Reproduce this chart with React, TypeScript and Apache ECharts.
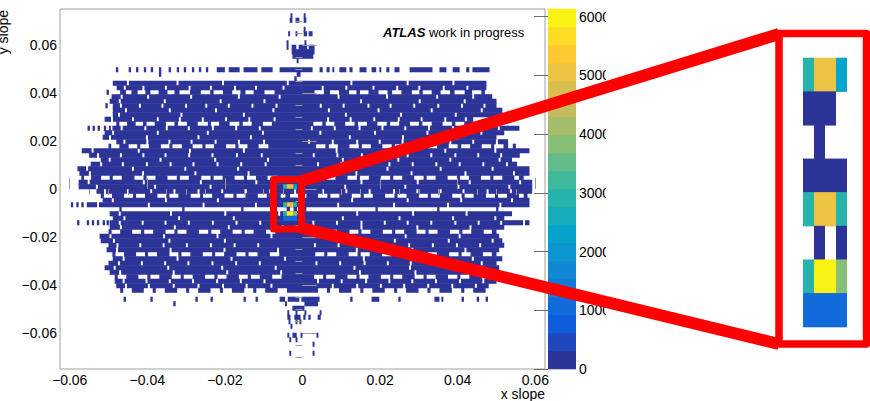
import React, { useEffect, useRef } from 'react';
import * as echarts from 'echarts';

const FONT = '"Liberation Sans", Arial, Helvetica, sans-serif';

// ---- axis ticks ----
const xMajor = [-0.06, -0.04, -0.02, 0, 0.02, 0.04, 0.06];
const xMinor = [-0.055, -0.05, -0.045, -0.035, -0.03, -0.025, -0.015, -0.01, -0.005, 0.005, 0.01, 0.015, 0.025, 0.03, 0.035, 0.045, 0.05, 0.055];
const yMajor = [-0.06, -0.04, -0.02, 0, 0.02, 0.04, 0.06];
const yMinor = [-0.07, -0.065, -0.055, -0.05, -0.045, -0.035, -0.03, -0.025, -0.015, -0.01, -0.005, 0.005, 0.01, 0.015, 0.025, 0.03, 0.035, 0.045, 0.05, 0.055, 0.065, 0.07];
const zTicks = [0, 1000, 2000, 3000, 4000, 5000, 6000];

// ---- histogram binning ----
const BIN_H = 0.001875; // y bin height
const GAP_W = 0.0005;   // width of an empty x bin inside a row
const Z_MAX = 6130;
const N_BANDS = 20;
const LOW = 120; // content of the ordinary (dark blue) cells

// rows: [y centre, left edge, right edge, x positions of empty bins]
const upperRows: [number, number, number, number[]][] = [
  [0.04406, -0.0489, 0.0474, [-0.045, -0.0322, -0.0205, -0.0038, 0.0126, 0.0271, 0.0389]],
  [0.04219, -0.0479, 0.0474, [-0.0458, -0.041, -0.0352, -0.0291, -0.0236, -0.0174, -0.012, -0.0049, 0.0052, 0.0113, 0.0183, 0.0244, 0.0301, 0.0364, 0.0425]],
  [0.03844, -0.0492, 0.0489, [-0.0466, -0.0398, -0.0287, -0.0164, -0.0059, 0.0093, 0.0218, 0.0347, 0.044]],
  [0.03656, -0.0497, 0.05, [-0.0471, -0.0355, -0.0211, -0.0098, 0.0151, 0.0302, 0.0418]],
  [0.03469, -0.0489, 0.05, [-0.0468, -0.0419, -0.0361, -0.03, -0.0248, -0.019, -0.0129, -0.0067, 0.0047, 0.0106, 0.017, 0.0227, 0.0288, 0.035, 0.0411, 0.0469]],
  [0.03281, -0.0489, 0.0515, [-0.0455, -0.0342, -0.0223, -0.0075, 0.0068, 0.0196, 0.0333, 0.0462]],
  [0.03094, -0.0489, 0.0515, [-0.0473, -0.0312, -0.0151, 0.0112, 0.0254, 0.0395]],
  [0.02906, -0.051, 0.044, [-0.0491, -0.0437, -0.0373, -0.0316, -0.0257, -0.0197, -0.0137, -0.0072, 0.0066, 0.0124, 0.0185, 0.0248, 0.0307, 0.0368, 0.0421]],
  [0.02531, -0.049, 0.0559, [-0.0466, -0.0405, -0.035, -0.0293, -0.0231, -0.0171, -0.011, 0.0024, 0.0083, 0.0147, 0.0206, 0.0265, 0.0326, 0.0388, 0.0447, 0.0506]],
  [0.02344, -0.051, 0.052, [-0.0488, -0.0373, -0.0244, -0.0102, 0.0046, 0.0187, 0.0322, 0.0461]],
  [0.02156, -0.0515, 0.05, [-0.0496, -0.0401, -0.0268, -0.0133, 0.0122, 0.0259, 0.0399]],
  [0.01969, -0.048, 0.053, [-0.0459, -0.04, -0.0343, -0.0286, -0.0224, -0.0164, -0.0099, 0.0017, 0.0078, 0.0141, 0.0199, 0.0258, 0.032, 0.0381, 0.044, 0.0501]],
  [0.01594, -0.0569, 0.0585, [-0.0541, -0.0422, -0.029, -0.0151, 0.0088, 0.0233, 0.0368, 0.0497]],
  [0.01406, -0.055, 0.056, [-0.0527, -0.0468, -0.041, -0.0353, -0.0292, -0.0232, -0.0169, -0.0105, 0.0029, 0.009, 0.0153, 0.0212, 0.0271, 0.0332, 0.0394, 0.0453, 0.0512]],
  [0.01219, -0.052, 0.054, [-0.0497, -0.0366, -0.0225, -0.0089, 0.0104, 0.0247, 0.0381, 0.0508]],
  [0.01031, -0.0546, 0.0553, [-0.0519, -0.0463, -0.0401, -0.034, -0.0281, -0.0219, -0.0158, -0.0095, 0.004, 0.01, 0.0163, 0.0224, 0.0284, 0.0345, 0.0405, 0.0466, 0.0527]],
  [0.00844, -0.058, 0.0585, [-0.0555, -0.0437, -0.0302, -0.0166, 0.0073, 0.0219, 0.0356, 0.049]],
  [0.00656, -0.0575, 0.0585, [-0.0548, -0.0411, -0.0276, -0.0139, 0.0139, 0.0281, 0.042, 0.0545]],
  [0.00281, -0.0577, 0.0592, [-0.0551, -0.0409, -0.0262, -0.0119, 0.0152, 0.0297, 0.0431, 0.0561]],
  [0.00094, -0.0577, 0.0592, [-0.053, -0.038, -0.0237, 0.011, 0.0265, 0.0402, 0.0533]],
];

const lowerRows: [number, number, number, number[]][] = [
  [-0.00094, -0.0531, 0.0592, [-0.0509, -0.045, -0.039, -0.033, -0.0268, -0.0207, -0.0146, -0.0083, -0.0019, 0.0053, 0.0113, 0.0173, 0.0236, 0.0296, 0.0356, 0.0415, 0.0477, 0.0537]],
  [-0.00469, -0.0515, 0.0585, [-0.0489, -0.0352, -0.0218, -0.0081, 0.0128, 0.0271, 0.0409, 0.054]],
  [-0.00656, -0.0556, 0.0585, [-0.0527, -0.0396, -0.0255, -0.012, 0.0092, 0.0236, 0.0375, 0.051]],
  [-0.01031, -0.0497, 0.054, [-0.0471, -0.0339, -0.0199, -0.006, 0.0141, 0.0285, 0.0423]],
  [-0.01219, -0.0489, 0.052, [-0.0459, -0.0318, -0.0177, 0.0104, 0.025, 0.0388, 0.0497]],
  [-0.01406, -0.0497, 0.0585, [-0.0471, -0.0412, -0.0353, -0.0293, -0.0231, -0.017, -0.0109, 0.0028, 0.0089, 0.0152, 0.0212, 0.0271, 0.0332, 0.0394, 0.0454, 0.0512, 0.0571]],
  [-0.01594, -0.0497, 0.052, [-0.0468, -0.0329, -0.019, -0.0051, 0.0152, 0.0296, 0.0433]],
  [-0.01969, -0.0523, 0.0507, [-0.0495, -0.0357, -0.0219, -0.008, 0.0124, 0.0266, 0.0405]],
  [-0.02156, -0.052, 0.0515, [-0.0486, -0.0343, -0.02, 0.0095, 0.0238, 0.0377, 0.049]],
  [-0.02344, -0.05, 0.052, [-0.0477, -0.0418, -0.0358, -0.0298, -0.0236, -0.0175, -0.0114, 0.0032, 0.0093, 0.0156, 0.0216, 0.0275, 0.0336, 0.0398, 0.0458]],
  [-0.02531, -0.0505, 0.0507, [-0.0478, -0.034, -0.0201, -0.0063, 0.014, 0.0283, 0.042]],
  [-0.02906, -0.0489, 0.0515, [-0.0461, -0.0322, -0.0183, -0.0045, 0.0158, 0.0301, 0.0439]],
  [-0.03094, -0.05, 0.05, [-0.0473, -0.0414, -0.0354, -0.0294, -0.0232, -0.0171, -0.011, 0.0036, 0.0097, 0.016, 0.022, 0.0279, 0.034, 0.0402, 0.0462]],
  [-0.03281, -0.051, 0.0507, [-0.0484, -0.0346, -0.0207, -0.0069, 0.0134, 0.0277, 0.0414]],
  [-0.03469, -0.0497, 0.05, [-0.047, -0.0332, -0.0194, -0.0055, 0.0148, 0.0291, 0.0428]],
  [-0.03844, -0.0484, 0.05, [-0.0461, -0.0402, -0.0342, -0.0282, -0.022, -0.0159, -0.0098, 0.004, 0.0101, 0.0164, 0.0224, 0.0283, 0.0344, 0.0406, 0.0466]],
  [-0.04031, -0.048, 0.048, [-0.0455, -0.0396, -0.0332, -0.0268, -0.0205, -0.0144, -0.008, 0.0078, 0.0141, 0.0202, 0.0262, 0.0324, 0.0386, 0.0447]],
];

// sparse rows: [y centre, filled x ranges]
const sparseRows: [number, [number, number][]][] = [
  [0.07219, [[-0.0031, -0.0026], [0.0003, 0.0008]]],
  [0.07031, [[-0.0033, -0.0026], [-0.0018, -0.0008], [0.0003, 0.001]]],
  [0.06656, [[0.0003, 0.0008]]],
  [0.06469, [[-0.0037, -0.0032], [-0.0018, -0.0013], [0.0003, 0.0012], [0.0016, 0.0026]]],
  [0.06094, [[-0.0041, -0.0036], [0.0005, 0.001]]],
  [0.05906, [[-0.0041, -0.0036], [-0.0028, -0.0016], [-0.001, 0.0012], [0.0016, 0.0031]]],
  [0.05719, [[-0.0028, 0.0031]]],
  [0.05531, [[-0.0026, 0.0028]]],
  [0.05344, [[-0.0015, -0.001]]],
  [0.04969, [[-0.0481, -0.0475], [-0.0448, -0.0442], [-0.0429, -0.0423], [-0.0409, -0.0403], [-0.0391, -0.0385], [-0.037, -0.0364], [-0.0345, -0.0339], [-0.0324, -0.0318], [-0.0306, -0.03], [-0.0285, -0.0279], [-0.0267, -0.0261], [-0.0249, -0.0243], [-0.0221, -0.02], [-0.019, -0.0162], [-0.0152, -0.0116], [-0.0106, -0.0077], [-0.0059, 0.0026], [0.0044, 0.0052], [0.0062, 0.007], [0.0077, 0.0082], [0.0095, 0.0113], [0.0121, 0.0129], [0.0147, 0.0165], [0.0178, 0.019], [0.0198, 0.0203], [0.0216, 0.0224], [0.0237, 0.025], [0.0276, 0.0335], [0.0353, 0.0371], [0.0387, 0.0405], [0.0422, 0.043], [0.0438, 0.0482]]],
  [0.04781, [[-0.037, -0.0364], [-0.0015, -0.0005]]],
  [0.04594, [[-0.0021, -0.0015]]],
  [0.04031, [[-0.0505, -0.0499], [-0.047, -0.0455], [-0.0441, -0.0425], [-0.0405, -0.0392], [-0.0371, -0.0348], [-0.033, -0.0317], [-0.029, -0.0262], [-0.0238, -0.0229], [-0.0205, -0.0181], [-0.016, -0.0147], [-0.0126, -0.0098], [-0.0072, 0.0031], [0.0055, 0.0071], [0.0094, 0.012], [0.0139, 0.0148], [0.017, 0.0196], [0.0219, 0.0231], [0.0255, 0.0282], [0.0301, 0.031], [0.0333, 0.0356], [0.038, 0.0392], [0.0418, 0.0437], [0.0461, 0.047]]],
  [0.03469, [[-0.0508, -0.0502]]],
  [0.02719, [[-0.048, -0.0472], [-0.0452, -0.043], [-0.0411, -0.0402], [-0.0381, -0.0352], [-0.033, -0.0321], [-0.0298, -0.027], [-0.0244, -0.0236], [-0.0215, -0.0188], [-0.0163, -0.0154], [-0.0131, -0.0102], [-0.0079, 0.0028], [0.0051, 0.006], [0.0082, 0.011], [0.0134, 0.0143], [0.0166, 0.0193], [0.0217, 0.0226], [0.0249, 0.0277], [0.03, 0.0309], [0.0333, 0.0361], [0.0385, 0.0394], [0.0417, 0.044], [0.0458, 0.0465]]],
  [0.02531, [[-0.0554, -0.0548], [-0.0541, -0.0535], [-0.0528, -0.0522], [-0.0512, -0.0506], [-0.0499, -0.0494]]],
  [0.01781, [[-0.05, -0.0493], [-0.0472, -0.0448], [-0.0426, -0.0418], [-0.0396, -0.0365], [-0.0343, -0.0335], [-0.0311, -0.0283], [-0.0258, -0.025], [-0.0228, -0.0197], [-0.0173, -0.0165], [-0.0142, -0.0113], [-0.0088, 0.0035], [0.0059, 0.0068], [0.0091, 0.0121], [0.0145, 0.0153], [0.0176, 0.0206], [0.023, 0.0238], [0.0262, 0.0291], [0.0315, 0.0323], [0.0347, 0.0377], [0.04, 0.0409], [0.0432, 0.0462], [0.0486, 0.0494], [0.0518, 0.053], [0.0542, 0.055]]],
  [0.00469, [[-0.057, -0.0563], [-0.0545, -0.0519], [-0.0497, -0.0489], [-0.0466, -0.0433], [-0.041, -0.0402], [-0.0379, -0.0348], [-0.0324, -0.0316], [-0.0293, -0.0261], [-0.0237, -0.0229], [-0.0206, -0.0175], [-0.0151, -0.0143], [-0.012, -0.009], [-0.0066, 0.003], [0.0054, 0.0062], [0.0085, 0.0116], [0.014, 0.0148], [0.0171, 0.0202], [0.0226, 0.0234], [0.0257, 0.0288], [0.0312, 0.032], [0.0343, 0.0374], [0.0398, 0.0406], [0.0429, 0.046], [0.0484, 0.0492], [0.0515, 0.0546], [0.0558, 0.057]]],
  [-0.00281, [[-0.052, -0.0512], [-0.0491, -0.046], [-0.0437, -0.0429], [-0.0406, -0.0374], [-0.0351, -0.0343], [-0.032, -0.0288], [-0.0264, -0.0256], [-0.0233, -0.0201], [-0.0178, -0.017], [-0.0147, -0.0115], [-0.0092, -0.0084], [-0.0078, -0.0056], [-0.0044, -0.0034], [0.001, 0.004], [0.0064, 0.0072], [0.0095, 0.0127], [0.015, 0.0158], [0.0181, 0.0213], [0.0237, 0.0245], [0.0268, 0.03], [0.0323, 0.0331], [0.0354, 0.0386], [0.041, 0.0418], [0.0441, 0.0473], [0.0496, 0.0504], [0.0527, 0.0558], [0.057, 0.058]]],
  [-0.00656, [[-0.0597, -0.0591], [-0.0583, -0.0577], [-0.057, -0.0564]]],
  [-0.00844, [[-0.0472, -0.0466], [-0.031, -0.0304], [-0.0158, -0.0152], [0.0, 0.001], [0.0188, 0.0194], [0.0347, 0.0353], [0.0499, 0.0505]]],
  [-0.01406, [[-0.0581, -0.0575], [-0.0556, -0.055], [-0.0543, -0.0537], [-0.053, -0.0524], [-0.0515, -0.0509], [-0.0505, -0.0499]]],
  [-0.01781, [[-0.05, -0.0492], [-0.047, -0.0439], [-0.0416, -0.0408], [-0.0385, -0.0353], [-0.033, -0.0322], [-0.0299, -0.0267], [-0.0243, -0.0235], [-0.0212, -0.018], [-0.0157, -0.0149], [-0.0126, -0.0094], [-0.007, 0.0035], [0.0058, 0.0066], [0.0089, 0.0121], [0.0144, 0.0152], [0.0175, 0.0207], [0.0231, 0.0239], [0.0262, 0.0294], [0.0317, 0.0325], [0.0348, 0.038], [0.0404, 0.0412], [0.0435, 0.0467], [0.0488, 0.05]]],
  [-0.02719, [[-0.049, -0.0482], [-0.046, -0.0429], [-0.0406, -0.0398], [-0.0375, -0.0343], [-0.032, -0.0312], [-0.0289, -0.0257], [-0.0233, -0.0225], [-0.0202, -0.017], [-0.0147, -0.0139], [-0.0116, -0.0084], [-0.006, 0.0033], [0.0056, 0.0064], [0.0087, 0.0119], [0.0142, 0.015], [0.0173, 0.0205], [0.0229, 0.0237], [0.026, 0.0292], [0.0315, 0.0323], [0.0346, 0.0378], [0.0402, 0.041], [0.0433, 0.0465], [0.0488, 0.05]]],
  [-0.03656, [[-0.0484, -0.0476], [-0.0454, -0.0423], [-0.04, -0.0392], [-0.0369, -0.0337], [-0.0314, -0.0306], [-0.0283, -0.0251], [-0.0227, -0.0219], [-0.0196, -0.0164], [-0.0141, -0.0133], [-0.011, -0.0078], [-0.0054, 0.003], [0.0053, 0.0061], [0.0084, 0.0116], [0.0139, 0.0147], [0.017, 0.0202], [0.0226, 0.0234], [0.0257, 0.0289], [0.0312, 0.032], [0.0343, 0.0375], [0.0399, 0.0407], [0.043, 0.0462], [0.0485, 0.05]]],
  [-0.04219, [[-0.047, -0.0462], [-0.044, -0.0409], [-0.0386, -0.0378], [-0.0355, -0.0323], [-0.03, -0.0292], [-0.0269, -0.0237], [-0.0213, -0.0205], [-0.0182, -0.015], [-0.0127, -0.0119], [-0.0096, -0.0064], [-0.004, 0.004], [0.0063, 0.0071], [0.0094, 0.0126], [0.0149, 0.0157], [0.018, 0.0212], [0.0236, 0.0244], [0.0267, 0.0299], [0.0322, 0.033], [0.0353, 0.0385], [0.0409, 0.0417], [0.044, 0.0472]]],
  [-0.04594, [[-0.0461, -0.0455], [-0.0392, -0.0386], [-0.0276, -0.027], [-0.0237, -0.0231], [-0.0152, -0.0146], [-0.0121, -0.0115], [-0.0059, -0.0045], [-0.0038, -0.0008], [-0.0003, 0.0044], [0.0123, 0.0129], [0.0178, 0.0198], [0.0247, 0.0253], [0.034, 0.0353], [0.0358, 0.0363], [0.041, 0.0416], [0.0449, 0.0455], [0.0472, 0.0478]]],
  [-0.04781, [[-0.0333, -0.0327], [-0.0045, -0.004], [0.0005, 0.004]]],
  [-0.04969, [[-0.0026, 0.0005]]],
  [-0.05156, [[-0.0039, -0.0034], [-0.0018, -0.0013], [0.0005, 0.001], [0.0044, 0.0049]]],
  [-0.05344, [[-0.0039, -0.0031], [-0.0021, -0.0005], [0.0002, 0.0008], [0.0015, 0.0021], [0.0039, 0.0047]]],
  [-0.05531, [[-0.0036, -0.0031], [-0.0018, -0.0013], [-0.0008, -0.0003]]],
  [-0.05719, [[-0.0031, -0.0026]]],
  [-0.06094, [[-0.0039, -0.0034], [-0.0026, -0.0015], [-0.0005, 0.0], [0.0036, 0.0041]]],
  [-0.06281, [[-0.0034, -0.0029], [-0.0018, -0.0013]]],
  [-0.06469, [[0.0026, 0.0031]]],
  [-0.06844, [[-0.0034, -0.0029], [0.0026, 0.0031]]],
];

// hot spot (also shown enlarged in the inset)
const hotColEdges = [-0.005, -0.0041, -0.0032, -0.0023, -0.0014];
const hotRowY = [0.00094, -0.00094, -0.00281, -0.00469, -0.00656, -0.00844, -0.01031, -0.01219];
const hotValues: (number | null)[][] = [
  [3000, 5000, 5100, 2400],
  [150, 150, 150, null],
  [null, 150, null, null],
  [150, 150, 150, 150],
  [2900, 5200, 5100, 2800],
  [null, 150, null, 150],
  [2900, 6000, 6050, 3700],
  [1000, 1150, 1200, 1050],
];

// ---- colour palette (ROOT "bird") ----
const BIRD = [[53, 42, 135], [15, 92, 221], [20, 129, 214], [6, 164, 202], [46, 183, 164], [135, 191, 119], [209, 187, 89], [254, 200, 50], [249, 251, 14]];
function bird(t: number) {
  const s = Math.max(0, Math.min(1, t)) * 8;
  const i = Math.min(7, Math.floor(s));
  const f = s - i;
  const a = BIRD[i], b = BIRD[i + 1];
  const c = [0, 1, 2].map((k) => Math.round(a[k] + (b[k] - a[k]) * f));
  return `rgb(${c[0]},${c[1]},${c[2]})`;
}
const PALETTE = Array.from({ length: N_BANDS }, (_, i) => bird((i + 0.5) / N_BANDS));
function colorOf(v: number) {
  const i = Math.max(0, Math.min(N_BANDS - 1, Math.floor((v / Z_MAX) * N_BANDS)));
  return PALETTE[i];
}

// ---- build cell tables ----
function buildMain() {
  const out: number[][] = [];
  const seg = (x1: number, x2: number, yc: number, v: number) => {
    if (x2 > x1) out.push([x1, x2, yc - BIN_H / 2, yc + BIN_H / 2, v]);
  };
  [...upperRows, ...lowerRows].forEach(([yc, L, R, gaps]) => {
    let cur = L;
    [...gaps].sort((a, b) => a - b).forEach((g) => {
      const g1 = g - GAP_W / 2, g2 = g + GAP_W / 2;
      if (g1 > cur && g2 < R) {
        seg(cur, g1, yc, LOW);
        cur = g2;
      }
    });
    seg(cur, R, yc, LOW);
  });
  sparseRows.forEach(([yc, segs]) => segs.forEach(([a, b]) => seg(a, b, yc, LOW)));
  hotValues.forEach((row, r) =>
    row.forEach((v, c) => {
      if (v != null) seg(hotColEdges[c], hotColEdges[c + 1], hotRowY[r], v);
    })
  );
  return out;
}
function buildInset() {
  const out: number[][] = [];
  const n = hotValues.length;
  hotValues.forEach((row, r) =>
    row.forEach((v, c) => {
      if (v != null) out.push([c, c + 1, n - r - 1, n - r, v]);
    })
  );
  return out;
}
function buildBar() {
  return Array.from({ length: N_BANDS }, (_, i) => [0, 1, (i * Z_MAX) / N_BANDS, ((i + 1) * Z_MAX) / N_BANDS, ((i + 0.5) * Z_MAX) / N_BANDS]);
}

function cellRender(_params: any, api: any) {
  const a = api.coord([api.value(0), api.value(3)]);
  const b = api.coord([api.value(1), api.value(2)]);
  return {
    type: 'rect',
    shape: { x: a[0], y: a[1] - 0.3, width: Math.max(b[0] - a[0], 1), height: b[1] - a[1] + 0.6 },
    style: { fill: colorOf(api.value(4)) },
  };
}

const fmt = (v: number) => (Math.abs(v) < 1e-9 ? '0' : (v < 0 ? '\u2212' : '') + Math.abs(v).toFixed(2));
const TICK = '#9a9a9a';
const labelStyle = { fontFamily: FONT, fontSize: 14, color: '#000' };

export default function App() {
  const ref = useRef<HTMLDivElement>(null);
  useEffect(() => {
    const chart = echarts.init(ref.current as HTMLDivElement, null, { renderer: 'svg' });
    const dims = ['x1', 'x2', 'y1', 'y2', 'v'];
    const option: any = {
      animation: false,
      backgroundColor: '#fff',
      grid: [
        { left: 60, top: 9, width: 485, height: 360, show: true, borderColor: '#a0a0a0', borderWidth: 1, outerBoundsMode: 'none', containLabel: false },
        { left: 548, top: 9, width: 28, height: 360, show: false, outerBoundsMode: 'none', containLabel: false },
        { left: 803, top: 58, width: 44, height: 269, show: false, outerBoundsMode: 'none', containLabel: false },
      ],
      xAxis: [
        {
          type: 'value', gridIndex: 0, min: -0.0625, max: 0.0625, z: 5,
          axisLine: { show: false }, splitLine: { show: false },
          axisTick: { show: true, inside: true, length: 11, customValues: xMajor, lineStyle: { color: TICK } },
          axisLabel: { ...labelStyle, margin: 4, customValues: xMajor, formatter: fmt },
        },
        {
          type: 'value', gridIndex: 0, min: -0.0625, max: 0.0625, z: 5,
          axisLine: { show: false }, splitLine: { show: false },
          axisTick: { show: true, inside: true, length: 6, customValues: xMinor, lineStyle: { color: TICK } },
          axisLabel: { show: false },
        },
        { type: 'value', gridIndex: 1, min: 0, max: 1, show: false },
        { type: 'value', gridIndex: 2, min: 0, max: 4, show: false },
      ],
      yAxis: [
        {
          type: 'value', gridIndex: 0, min: -0.075, max: 0.075, z: 5,
          axisLine: { show: false }, splitLine: { show: false },
          axisTick: { show: true, inside: true, length: 14, customValues: yMajor, lineStyle: { color: TICK } },
          axisLabel: { ...labelStyle, margin: 3, customValues: yMajor, formatter: fmt },
        },
        {
          type: 'value', gridIndex: 0, min: -0.075, max: 0.075, z: 5,
          axisLine: { show: false }, splitLine: { show: false },
          axisTick: { show: true, inside: true, length: 7, customValues: yMinor, lineStyle: { color: TICK } },
          axisLabel: { show: false },
        },
        {
          type: 'value', gridIndex: 1, min: 0, max: Z_MAX, position: 'right', z: 5,
          axisLine: { show: false }, splitLine: { show: false },
          axisTick: { show: true, inside: true, length: 14, customValues: zTicks, lineStyle: { color: '#6b6b6b' } },
          axisLabel: { ...labelStyle, margin: 3, customValues: zTicks, formatter: (v: number) => String(Math.round(v)) },
        },
        { type: 'value', gridIndex: 2, min: 0, max: 8, show: false },
      ],
      series: [
        { type: 'custom', xAxisIndex: 0, yAxisIndex: 0, dimensions: dims, encode: { x: ['x1', 'x2'], y: ['y1', 'y2'] }, renderItem: cellRender, data: buildMain(), clip: true, silent: true },
        { type: 'custom', xAxisIndex: 2, yAxisIndex: 2, dimensions: dims, encode: { x: ['x1', 'x2'], y: ['y1', 'y2'] }, renderItem: cellRender, data: buildBar(), silent: true },
        { type: 'custom', xAxisIndex: 3, yAxisIndex: 3, dimensions: dims, encode: { x: ['x1', 'x2'], y: ['y1', 'y2'] }, renderItem: cellRender, data: buildInset(), silent: true },
      ],
      graphic: [
        { type: 'rect', z: 90, silent: true, shape: { x: 606, y: 0, width: 40, height: 401 }, style: { fill: '#fff' } },
        {
          type: 'text', z: 95, silent: true, x: 383, y: 32,
          style: {
            text: '{a|ATLAS} {b|work in progress}', fontFamily: FONT, fontSize: 13, fill: '#000', verticalAlign: 'middle',
            rich: {
              a: { fontFamily: FONT, fontSize: 13, fontWeight: 'bold', fontStyle: 'italic', fill: '#000' },
              b: { fontFamily: FONT, fontSize: 13, fill: '#000' },
            },
          },
        },
        { type: 'text', z: 95, silent: true, x: 545, y: 394, style: { text: 'x slope', fontFamily: FONT, fontSize: 14, fill: '#000', align: 'right', verticalAlign: 'middle' } },
        { type: 'text', z: 95, silent: true, x: 3, y: 10, rotation: Math.PI / 2, style: { text: 'y slope', fontFamily: FONT, fontSize: 14, fill: '#000', align: 'right', verticalAlign: 'middle' } },
        { type: 'line', z: 100, silent: true, shape: { x1: 301.5, y1: 181, x2: 779, y2: 34 }, style: { stroke: '#ff0000', lineWidth: 12 } },
        { type: 'line', z: 100, silent: true, shape: { x1: 301.5, y1: 228, x2: 779, y2: 344 }, style: { stroke: '#ff0000', lineWidth: 12 } },
        { type: 'rect', z: 101, silent: true, shape: { x: 273.5, y: 179.5, width: 28, height: 49.5 }, style: { fill: 'none', stroke: '#ff0000', lineWidth: 7, lineJoin: 'round' } },
        { type: 'rect', z: 101, silent: true, shape: { x: 779, y: 33.5, width: 87.5, height: 310.5 }, style: { fill: 'none', stroke: '#ff0000', lineWidth: 7.5, lineJoin: 'round' } },
      ],
    };
    chart.setOption(option);
    return () => chart.dispose();
  }, []);
  return <div ref={ref} style={{ position: 'fixed', left: 0, top: 0, width: 870, height: 401, background: '#fff' }} />;
}
